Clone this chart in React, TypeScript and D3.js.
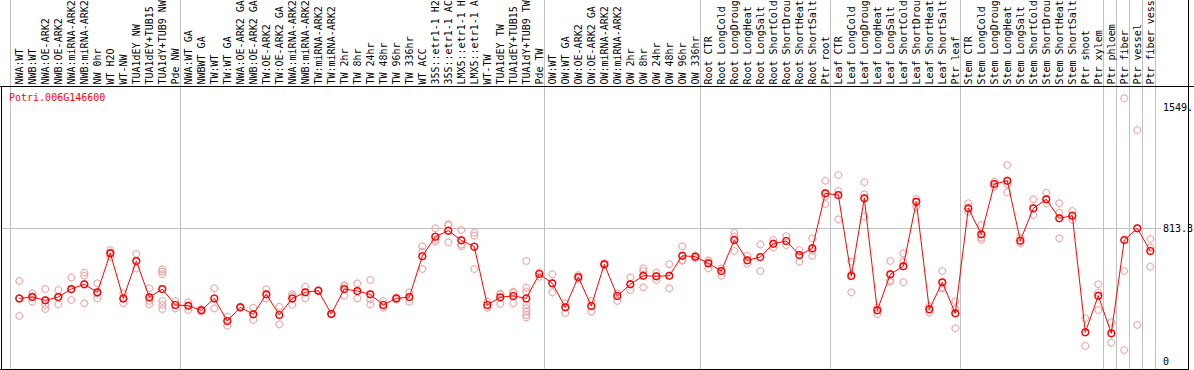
import React from 'react';
import * as d3 from 'd3';

const categories = [
  'NWA:WT', 'NWB:WT', 'NWA:OE-ARK2', 'NWB:OE-ARK2', 'NWA:miRNA-ARK2', 'NWB:miRNA-ARK2', 'NW 0hr', 'WT H2O', 'WT-NW', 'TUA1dEY NW',
  'TUA1dEY+TUB15', 'TUA1dY+TUB9 NW', 'Pde NW', 'NWA:WT GA', 'NWBWT GA', 'TW:WT', 'TW:WT GA', 'NWA:OE-ARK2 GA', 'NWB:OE-ARK2 GA', 'TW:OE-ARK2',
  'TW:OE-ARK2 GA', 'NWA:miRNA-ARK2', 'NWB:miRNA-ARK2', 'TW:miRNA-ARK2', 'TW:miRNA-ARK2', 'TW 2hr', 'TW 8hr', 'TW 24hr', 'TW 48hr', 'TW 96hr',
  'TW 336hr', 'WT ACC', '35S::etr1-1 H2', '35S::etr1-1 AC', 'LMX5::etr1-1 H', 'LMX5::etr1-1 A', 'WT-TW', 'TUA1dEY TW', 'TUA1dEY+TUB15', 'TUA1dY+TUB9 TW',
  'Pde TW', 'OW:WT', 'OW:WT GA', 'OW:OE-ARK2', 'OW:OE-ARK2 GA', 'OW:miRNA-ARK2', 'OW:miRNA-ARK2', 'OW 2hr', 'OW 8hr', 'OW 24hr',
  'OW 48hr', 'OW 96hr', 'OW 336hr', 'Root CTR', 'Root LongCold', 'Root LongDroug', 'Root LongHeat', 'Root LongSalt', 'Root ShortCold', 'Root ShortDrou',
  'Root ShortHeat', 'Root ShortSalt', 'Ptr root', 'Leaf CTR', 'Leaf LongCold', 'Leaf LongDroug', 'Leaf LongHeat', 'Leaf LongSalt', 'Leaf ShortCold', 'Leaf ShortDrou',
  'Leaf ShortHeat', 'Leaf ShortSalt', 'Ptr leaf', 'Stem CTR', 'Stem LongCold', 'Stem LongDroug', 'Stem LongHeat', 'Stem LongSalt', 'Stem ShortCold', 'Stem ShortDrou',
  'Stem ShortHeat', 'Stem ShortSalt', 'Ptr shoot', 'Ptr xylem', 'Ptr phloem', 'Ptr fiber', 'Ptr vessel', 'Ptr fiber vess',
];

const means = [
  386, 394, 374, 394, 443, 472, 423, 661, 386, 614,
  393, 443, 346, 341, 313, 386, 248, 332, 289, 411,
  285, 386, 423, 433, 291, 443, 431, 411, 346, 386,
  394, 643, 762, 799, 740, 701, 346, 393, 401, 386,
  535, 478, 332, 516, 340, 594, 401, 472, 524, 521,
  524, 646, 640, 600, 553, 742, 618, 638, 719, 736,
  650, 691, 1027, 1016, 522, 996, 313, 533, 582, 975,
  319, 484, 295, 935, 777, 1083, 1103, 738, 935, 990,
  874, 890, 179, 402, 173, 742, 813.3, 675,
];

const replicates = [
  [492, 386, 279], [417, 366, 399], [443, 346, 321], [437, 350, 394], [514, 376, 440],
  [543, 524, 356], [478, 417, 386], [680, 665, 638], [417, 356, 386], [657, 569],
  [447, 370, 350], [563, 549, 533, 370, 346, 321], [370, 325], [362, 315], [321, 305],
  [447, 325], [274, 219], [335, 330], [329, 254], [441, 386],
  [335, 228], [411, 346, 400], [457, 386], [437, 430], [291, 291],
  [468, 402, 459], [478, 386], [498, 380, 350], [370, 329], [392, 380],
  [423, 366], [703, 671, 565], [813, 742, 731], [837, 832, 728], [803, 714, 703],
  [786, 768, 565], [366, 329], [411, 415, 352], [427, 420, 356], [614, 451, 427, 346, 325, 305, 285, 270],
  [545, 518], [533, 423], [356, 297], [528, 505], [370, 305],
  [600, 588], [417, 370], [514, 437], [569, 553, 453], [543, 498],
  [594, 447], [703, 620, 615], [648, 632], [616, 569, 615], [569, 524],
  [786, 762, 675], [646, 596], [715, 553], [742, 696], [766, 711],
  [681, 610], [752, 646, 675], [1103, 1006, 961], [1138, 1041, 868], [610, 533, 423],
  [1094, 1020, 884], [329, 289], [614, 488, 497], [661, 610, 484], [992, 945],
  [335, 299], [553, 447, 452], [370, 321, 204], [966, 914], [833, 742, 756],
  [1097, 1067], [1199, 1081, 1033], [722, 754], [990, 894], [1030, 966],
  [966, 908, 752], [919, 864], [265, 96], [472, 315, 420], [240, 116],
  [1606, 553, 71], [1412, 224], [748, 695, 579],
];

const yTickValues = [0, 813.3, 1549.6];
const yTickLabels = ['0', '813.3', '1549.'];
const gridTickValues = [813.3];
const groupEnds = [12, 40, 52, 62, 72, 83, 84, 85, 86, 87];
const geneId = 'Potri.006G146600';

const FONT = "'DejaVu Sans Mono', monospace";

function Marker({ cx, cy, r, color, sw }: { cx: number; cy: number; r: number; color: string; sw: number }) {
  const t = 0.8;
  return (
    <g stroke={color} fill="none" strokeWidth={sw}>
      <circle cx={cx} cy={cy} r={r} />
      <line x1={cx} x2={cx} y1={cy - r - t} y2={cy - r} strokeWidth={1} />
      <line x1={cx} x2={cx} y1={cy + r} y2={cy + r + t} strokeWidth={1} />
      <line x1={cx - r - t} x2={cx - r} y1={cy} y2={cy} strokeWidth={1} />
      <line x1={cx + r} x2={cx + r + t} y1={cy} y2={cy} strokeWidth={1} />
    </g>
  );
}

export default function App() {
  const W = 1194;
  const H = 370;
  const plotTop = 86;
  const plotBottom = 369;
  const plotLeft = 1;
  const plotRight = 1188;

  const x = d3.scaleLinear().domain([0, categories.length - 1]).range([19.3, 1150.3]);
  const y = d3.scaleLinear().domain([0, 1549.6]).range([361.7, 107.5]);

  const linePath = d3
    .line<number>()
    .x((_, i) => x(i))
    .y((d) => y(d))(means) as string;

  const separators = [x(0) - 9, ...groupEnds.map((i) => x(i) + 5)].map((v) => Math.floor(v) + 0.5);

  return (
    <svg
      width={W}
      height={H}
      style={{ position: 'absolute', left: 0, top: 0, background: '#fff' }}
      fontFamily={FONT}
      fontSize={10}
    >
      <rect x={0} y={0} width={W} height={H} fill="#fff" />
      {separators.map((sx, i) => (
        <line key={'s' + i} x1={sx} x2={sx} y1={0} y2={plotBottom} stroke="#c0c0c0" strokeWidth={1} />
      ))}
      {gridTickValues.map((v, i) => (
        <line
          key={'g' + i}
          x1={plotLeft}
          x2={1161}
          y1={Math.floor(y(v)) + 0.5}
          y2={Math.floor(y(v)) + 0.5}
          stroke="#c0c0c0"
          strokeWidth={1}
        />
      ))}
      <line x1={0} x2={W} y1={plotTop + 0.5} y2={plotTop + 0.5} stroke="#000" strokeWidth={1} />
      <line x1={0} x2={plotRight} y1={plotBottom + 0.5} y2={plotBottom + 0.5} stroke="#000" strokeWidth={1} />
      <line x1={plotLeft + 0.5} x2={plotLeft + 0.5} y1={plotTop} y2={plotBottom} stroke="#000" strokeWidth={1} />
      <line x1={plotRight + 0.5} x2={plotRight + 0.5} y1={0} y2={plotBottom + 1} stroke="#000" strokeWidth={1} />

      {categories.map((c, i) => (
        <text key={'c' + i} transform={`translate(${x(i) + 3.6},${84.5}) rotate(-90)`} fill="#000">
          {c}
        </text>
      ))}

      {yTickValues.map((v, i) => (
        <text key={'t' + i} x={1163} y={y(v) + 3.6} fill="#000">
          {yTickLabels[i]}
        </text>
      ))}

      <text x={9} y={101} fill="#ff0000">
        {geneId}
      </text>

      {replicates.map((reps, i) =>
        reps.map((v, j) => <Marker key={'r' + i + '-' + j} cx={x(i)} cy={y(v)} r={3.4} color="#f0a0a0" sw={1} />)
      )}

      <path d={linePath} fill="none" stroke="#ff0000" strokeWidth={1} />
      {means.map((v, i) => (
        <Marker key={'m' + i} cx={x(i)} cy={y(v)} r={3.3} color="#ff0000" sw={1.4} />
      ))}
    </svg>
  );
}
